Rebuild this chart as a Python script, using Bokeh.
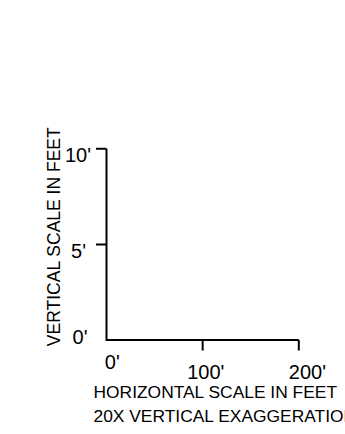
import math
from bokeh.plotting import figure
from bokeh.models import Range1d
from bokeh.core.properties import value
from bokeh.embed import file_html
from bokeh.resources import INLINE

# ---- data ----
x_ticks = [0, 100, 200]
x_tick_labels = ["0'", "100'", "200'"]
y_ticks = [0, 5, 10]
y_tick_labels = ["0'", "5'", "10'"]
x_title = "HORIZONTAL SCALE IN FEET"
y_title = "VERTICAL SCALE IN FEET"
note = "20X VERTICAL EXAGGERATION"

# ---- layout ----
W, H = 345, 434
X0_PX, XS = 106.0, 96.15 / 100.0    # canvas px of x=0, px per foot (horizontal)
Y0_PX, YS = 339.5, 19.12            # canvas px (from top) of y=0, px per foot (vertical)
TICK_PX = 10.5
FONT = "Liberation Sans"

p = figure(width=W, height=H, output_backend="svg", toolbar_location=None,
           x_range=Range1d(-X0_PX / XS, (W - X0_PX) / XS),
           y_range=Range1d(-(H - Y0_PX) / YS, Y0_PX / YS),
           x_axis_location=None, y_axis_location=None, min_border=0)
p.grid.visible = False
p.outline_line_color = None
p.background_fill_color = "white"
p.border_fill_color = "white"

xmax, ymax = max(x_ticks), max(y_ticks)
# main scale lines
p.line(x=[0, 0, xmax], y=[ymax, 0, 0], line_color="black", line_width=2, line_join="miter")

# ticks (not at origin)
xt = [v for v in x_ticks if v > 0]
yt = [v for v in y_ticks if v > 0]
p.segment(x0=xt, y0=[0] * len(xt), x1=xt, y1=[-TICK_PX / YS] * len(xt),
          line_color="black", line_width=2)
p.segment(x0=[0] * len(yt), y0=yt, x1=[-TICK_PX / XS] * len(yt), y1=yt,
          line_color="black", line_width=2)

# tick labels
p.text(x=x_ticks, y=[0] * len(x_ticks), text=x_tick_labels,
       x_offset=[-1.7, -15.4, -10.0], y_offset=[22.2, 31.5, 31.5],
       text_align="left", text_baseline="alphabetic",
       text_font=value(FONT), text_font_size="20px", text_color="black")
p.text(x=[0] * len(y_ticks), y=y_ticks, text=y_tick_labels,
       x_offset=[-26.5, -28.0, -28.5], y_offset=[-2.8, 7.0, 5.7],
       text_align="center", text_baseline="alphabetic",
       text_font=value(FONT), text_font_size="20px", text_color="black")

# titles
p.text(x=[0], y=[0], text=[x_title], x_offset=[-13], y_offset=[52],
       text_align="left", text_baseline="alphabetic",
       text_font=value(FONT), text_font_size="17.4px", text_color="black")
p.text(x=[0], y=[0], text=[note], x_offset=[-13], y_offset=[75.5],
       text_align="left", text_baseline="alphabetic",
       text_font=value(FONT), text_font_size="17.4px", text_color="black")
p.text(x=[0], y=[ymax / 2], text=[y_title], x_offset=[-52.7], y_offset=[-8],
       angle=math.pi / 2, text_align="center", text_baseline="alphabetic",
       text_font=value(FONT), text_font_size="17.5px", text_color="black")

open("out.html", "w").write(file_html(p, INLINE))
